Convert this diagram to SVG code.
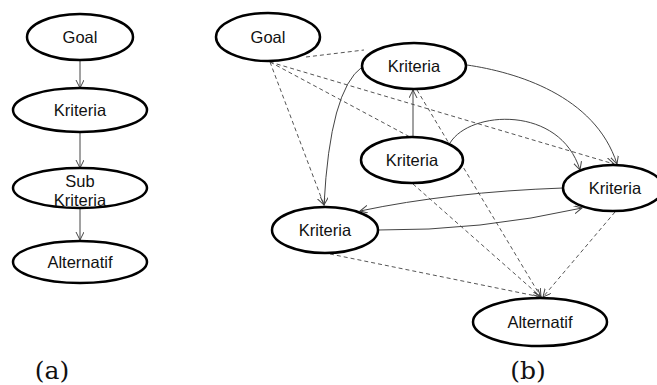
<svg xmlns="http://www.w3.org/2000/svg" width="657" height="385" viewBox="0 0 657 385">
<style>
.node ellipse{fill:#fff;stroke:#000;stroke-width:2.5}
.node text{font-family:"Liberation Sans",Arial,sans-serif;font-size:16.5px;fill:#111;text-anchor:middle}
.c path{fill:none;stroke:#444;stroke-width:1}
.c .d{stroke:#555;stroke-dasharray:4,3}
.lbl{font-family:"DejaVu Serif",serif;font-size:25px;fill:#111;text-anchor:middle}
</style>
<defs>
<marker id="ah" markerUnits="userSpaceOnUse" markerWidth="10" markerHeight="10" refX="8" refY="4" orient="auto">
<path d="M0,0 L8,4 L0,8" fill="none" stroke="#444" stroke-width="1"/>
</marker>
</defs>
<rect width="657" height="385" fill="#fff"/>
<g id="connectors" class="c">
<path d="M80,60 L80,88" marker-end="url(#ah)"/>
<path d="M80,133 L80,168" marker-end="url(#ah)"/>
<path d="M80,208 L80,240" marker-end="url(#ah)"/>
<path class="d" d="M306,57 L364,50"/>
<path class="d" d="M270,62 L410,137"/>
<path class="d" d="M270,62 L614,164" marker-end="url(#ah)"/>
<path class="d" d="M270,62 L324,205" marker-end="url(#ah)"/>
<path class="d" d="M417,90 L541,297" marker-end="url(#ah)"/>
<path class="d" d="M413,184 L541,297" marker-end="url(#ah)"/>
<path class="d" d="M330,254 L541,297" marker-end="url(#ah)"/>
<path class="d" d="M615,212 L543,297" marker-end="url(#ah)"/>
<path d="M413,137 L413,90" marker-end="url(#ah)"/>
<path d="M362,67 Q330,90 324,205" marker-end="url(#ah)"/>
<path d="M450,143 C470,110 560,105 580,170" marker-end="url(#ah)"/>
<path d="M467,65 C515,72 595,95 617,164" marker-end="url(#ah)"/>
<path d="M563,188 Q450,192 360,211" marker-end="url(#ah)"/>
<path d="M378,230 Q480,231 582,208" marker-end="url(#ah)"/>
</g>
<g id="a-goal" class="node"><ellipse cx="80" cy="37" rx="53" ry="23"/><text x="80" y="43">Goal</text></g>
<g id="a-kriteria" class="node"><ellipse cx="80" cy="110" rx="67" ry="22"/><text x="80" y="116">Kriteria</text></g>
<g id="a-subkriteria" class="node"><ellipse cx="80" cy="188" rx="67" ry="20"/><text x="80" y="187">Sub</text><text x="80" y="206">Kriteria</text></g>
<g id="a-alternatif" class="node"><ellipse cx="80" cy="262" rx="67" ry="21"/><text x="80" y="268">Alternatif</text></g>
<g id="b-goal" class="node"><ellipse cx="268" cy="37" rx="52" ry="24"/><text x="268" y="43">Goal</text></g>
<g id="b-kriteria-top" class="node"><ellipse cx="414" cy="66" rx="52" ry="23"/><text x="414" y="72">Kriteria</text></g>
<g id="b-kriteria-mid" class="node"><ellipse cx="412" cy="160" rx="51" ry="23"/><text x="412" y="166">Kriteria</text></g>
<g id="b-kriteria-right" class="node"><ellipse cx="613" cy="188" rx="50" ry="23"/><text x="615" y="194">Kriteria</text></g>
<g id="b-kriteria-left" class="node"><ellipse cx="325" cy="230" rx="53" ry="23"/><text x="325" y="236">Kriteria</text></g>
<g id="b-alternatif" class="node"><ellipse cx="540" cy="322" rx="67" ry="24"/><text x="540" y="328">Alternatif</text></g>
<text class="lbl" x="52" y="379">(a)</text>
<text class="lbl" x="528" y="379">(b)</text>
</svg>
